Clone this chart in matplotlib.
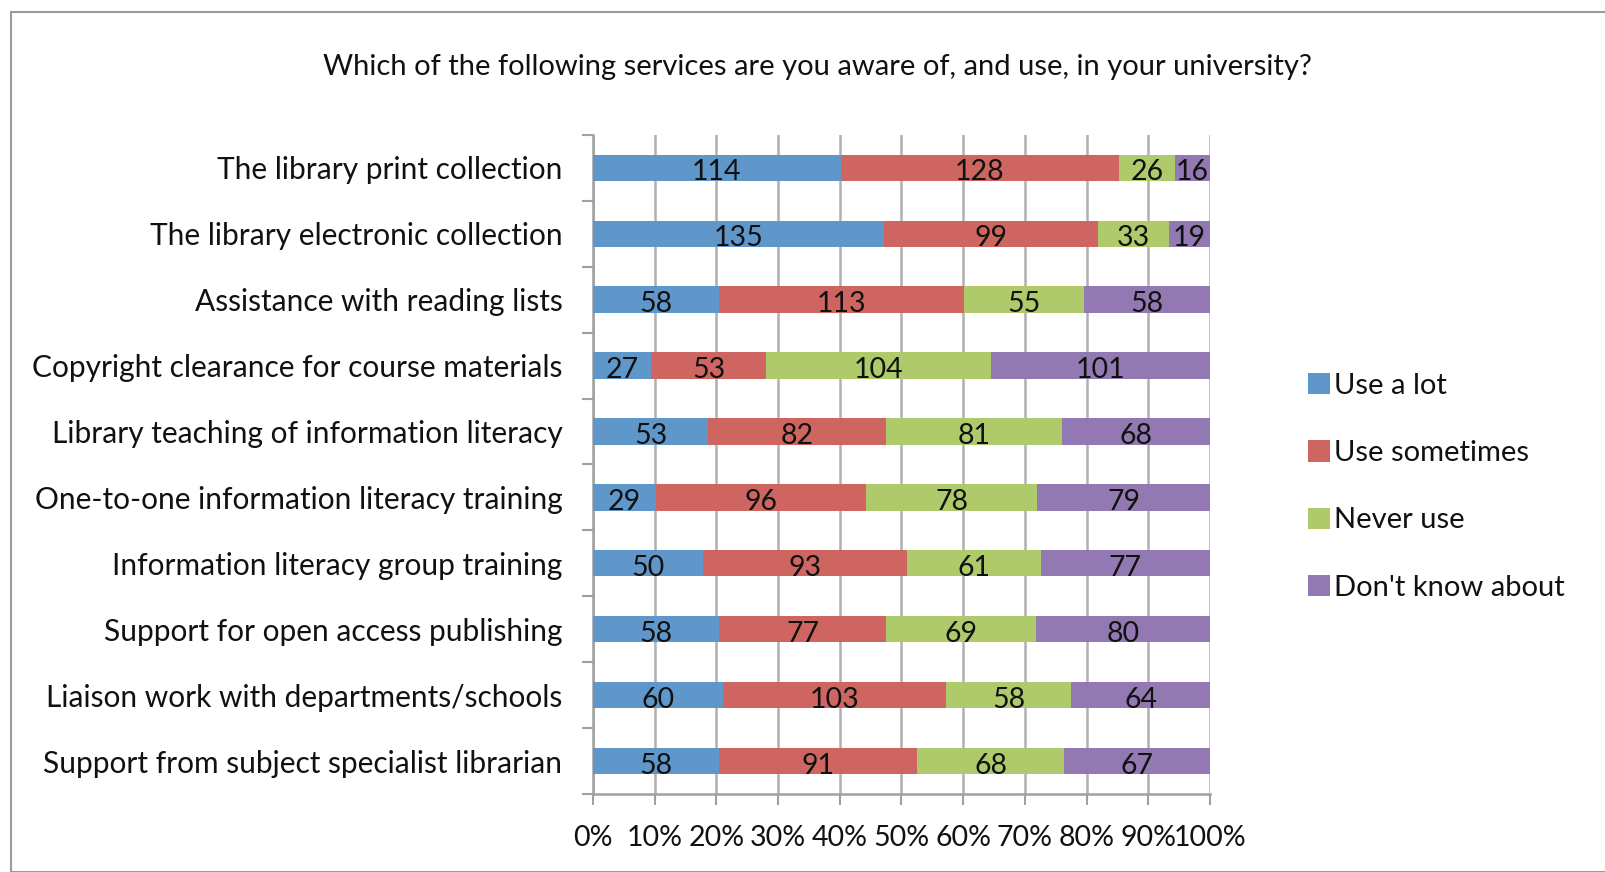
import numpy as np
import matplotlib.pyplot as plt
from matplotlib.patches import Rectangle

plt.rcParams['font.family'] = ['Lato', 'DejaVu Sans']

# survey categories, top to bottom
services = [
    'The library print collection',
    'The library electronic collection',
    'Assistance with reading lists',
    'Copyright clearance for course materials',
    'Library teaching of information literacy',
    'One-to-one information literacy training',
    'Information literacy group training',
    'Support for open access publishing',
    'Liaison work with departments/schools',
    'Support from subject specialist librarian',
]

use_a_lot = [114, 135, 58, 27, 53, 29, 50, 58, 60, 58]
use_sometimes = [128, 99, 113, 53, 82, 96, 93, 77, 103, 91]
never_use = [26, 33, 55, 104, 81, 78, 61, 69, 58, 68]
dont_know = [16, 19, 58, 101, 68, 79, 77, 80, 64, 67]

series_names = ['Use a lot', 'Use sometimes', 'Never use', "Don't know about"]
colors = ['#6097CA', '#CF6560', '#AECA6B', '#9279B2']
x_ticks = [0, 10, 20, 30, 40, 50, 60, 70, 80, 90, 100]

counts = np.array([use_a_lot, use_sometimes, never_use, dont_know], dtype=float)
pct = counts / counts.sum(axis=0) * 100

fig = plt.figure(figsize=(16.06, 8.72), dpi=100)
ax = fig.add_axes([0.3692, 0.0894, 0.3842, 0.756])

# outer frame of the chart object
fig.patches.append(Rectangle((11/1606, 0), 1.2, 1 - 12/872, transform=fig.transFigure,
                             fill=False, edgecolor='#9a9a9a', linewidth=1.5))

y = np.arange(len(services))
left = np.zeros(len(services))
for i in range(4):
    ax.barh(y, pct[i], left=left, height=0.4, color=colors[i], label=series_names[i], zorder=3)
    for j in range(len(services)):
        ax.text(left[j] + pct[i][j] / 2, y[j] + 0.07, '%d' % counts[i][j], ha='center', va='center',
                fontsize=20.5, color='#111111', zorder=4)
    left += pct[i]

ax.set_ylim(len(services) - 0.5, -0.5)
ax.set_xlim(0, 100)
ax.set_yticks(y)
ax.set_yticklabels(services, fontsize=21.5, color='#111111')
ax.set_yticks(np.arange(-0.5, len(services)), minor=True)
ax.tick_params(axis='y', which='major', length=0, pad=22)
ax.tick_params(axis='y', which='minor', length=8, width=1.5, color='#a0a0a0')
ax.set_xticks(x_ticks)
ax.set_xticklabels(['%d%%' % v for v in x_ticks], fontsize=20.5, color='#111111')
ax.tick_params(axis='x', length=8, width=1.5, color='#a0a0a0', pad=14)
ax.grid(axis='x', color='#b0b0b0', linewidth=1.8, zorder=0)

for s in ['top', 'right']:
    ax.spines[s].set_visible(False)
for s in ['left', 'bottom']:
    ax.spines[s].set_color('#a0a0a0')
    ax.spines[s].set_linewidth(1.8)

fig.text(817/1606, 1 - 67/872, 'Which of the following services are you aware of, and use, in your university?',
         ha='center', va='center', fontsize=21, color='#111111')

ax.legend(loc='upper left', bbox_to_anchor=(1.14, 0.657), frameon=False, fontsize=21,
          handlelength=0.75, handleheight=0.75, handletextpad=0.15, labelspacing=1.42,
          borderaxespad=0, labelcolor='#111111')

fig.savefig('out.png', dpi=100)
